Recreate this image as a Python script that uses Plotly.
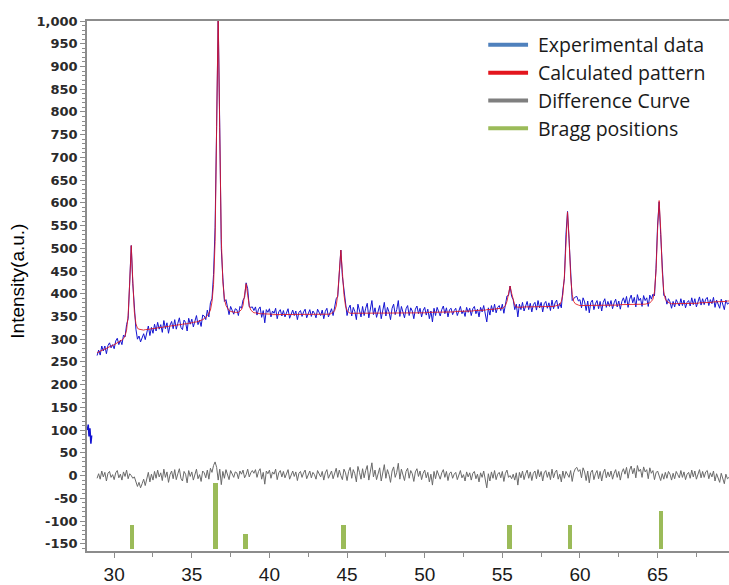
import numpy as np
import plotly.graph_objects as go

# ---- Co3O4 powder pattern, Rietveld fit -------------------------------------
# 2-theta grid of the scan (degrees), 0.1 deg step from 28.9 to 69.6
two_theta = np.round(np.arange(28.9, 69.65, 0.1), 1)

# Calculated (fitted) pattern, one row per degree
calculated = np.array([
    270,
    272, 273, 275, 277, 278, 280, 281, 283, 285, 286,
    288, 290, 291, 293, 295, 298, 301, 307, 320, 352,
    424, 506, 428, 360, 334, 324, 322, 321, 320, 320,
    321, 321, 322, 322, 323, 323, 324, 324, 325, 325,
    326, 326, 327, 327, 328, 328, 329, 329, 330, 330,
    331, 331, 332, 332, 333, 333, 334, 334, 335, 335,
    336, 337, 337, 338, 339, 340, 341, 343, 345, 348,
    352, 357, 364, 382, 420, 515, 750, 1019, 752, 519,
    426, 389, 374, 367, 363, 361, 360, 359, 359, 359,
    359, 362, 365, 374, 397, 422, 397, 374, 364, 360,
    358, 358, 357, 357, 356, 356, 356, 355, 355, 355,
    355, 355, 354, 354, 354, 354, 354, 354, 354, 354,
    354, 354, 354, 354, 354, 354, 354, 354, 354, 354,
    354, 354, 354, 354, 354, 354, 355, 355, 355, 355,
    355, 355, 355, 355, 355, 355, 355, 355, 355, 355,
    357, 359, 363, 373, 398, 447, 496, 447, 398, 373,
    363, 359, 357, 357, 357, 357, 357, 357, 357, 357,
    357, 357, 357, 357, 357, 357, 357, 357, 357, 357,
    357, 357, 357, 357, 357, 357, 357, 358, 358, 358,
    358, 358, 358, 358, 358, 358, 358, 358, 358, 358,
    358, 358, 358, 358, 358, 358, 358, 358, 358, 358,
    358, 358, 359, 359, 359, 359, 359, 359, 359, 359,
    359, 359, 360, 360, 360, 360, 360, 360, 360, 360,
    361, 361, 361, 361, 361, 361, 362, 362, 362, 362,
    362, 362, 363, 363, 363, 363, 364, 364, 364, 364,
    365, 365, 365, 366, 366, 366, 367, 367, 367, 368,
    368, 370, 374, 383, 400, 417, 401, 384, 375, 371,
    370, 370, 370, 371, 371, 371, 371, 371, 371, 371,
    371, 371, 371, 372, 372, 372, 372, 372, 372, 372,
    372, 372, 372, 372, 373, 374, 375, 376, 383, 398,
    439, 522, 580, 522, 439, 398, 383, 378, 376, 375,
    374, 374, 374, 374, 374, 374, 374, 374, 374, 374,
    374, 374, 374, 374, 374, 375, 375, 375, 375, 375,
    375, 375, 375, 375, 375, 375, 376, 376, 376, 376,
    376, 376, 376, 376, 376, 376, 376, 376, 376, 376,
    376, 377, 377, 378, 379, 380, 383, 388, 404, 450,
    541, 605, 541, 450, 404, 388, 383, 380, 379, 378,
    378, 378, 378, 378, 378, 378, 378, 378, 378, 378,
    378, 379, 379, 379, 379, 379, 379, 380, 380, 380,
    380, 380, 381, 381, 381, 381, 382, 382, 382, 382,
    383, 383, 383, 383, 383, 384, 384,
])

# Fit residual (observed - calculated), same grid
residual = np.array([
    -6,
    4, -8, 10, -3, 7, -12, 5, 9, -4, 2,
    -9, 6, 11, -5, 3, -10, 8, -2, 12, -7,
    4, 0, -6, -3, -12, -24, -15, -27, -18, -8,
    -22, -5, 7, -14, 3, -10, 9, -6, 12, -3,
    6, -11, 14, -4, 8, -15, 2, 10, -7, 13,
    -9, 4, 15, -6, -12, 9, 3, -16, 11, -2,
    8, -10, 5, 14, -7, 2, -13, 10, 6, -5,
    12, -8, 16, 7, 22, 30, 18, -10, 14, -20,
    9, -6, 13, 4, -9, 11, 2, -4, 8, 6,
    -7, 10, 3, 12, -5, 2, 14, -3, 6, 11,
    5, 13, -4, 9, 15, -8, 7, -19, 10, 4,
    12, -6, 8, 3, 14, -9, 6, 11, -3, 9,
    -5, 7, 13, -8, 4, 10, -2, 8, -11, 5,
    9, -4, 6, 12, -7, 3, 10, -5, 7, 2,
    -8, 11, 4, -3, 9, -10, 6, 13, -6, 3,
    10, -7, 5, 16, -4, 12, 0, -9, 14, 6,
    -11, 9, 18, -6, 13, 4, -14, 20, 7, -8,
    15, -5, 11, 22, -10, 8, 28, -3, 12, -9,
    6, 17, -12, 9, 24, -6, 13, 2, -15, 10,
    19, -4, 7, 27, -8, 14, 3, -11, 9, 16,
    -6, 11, 4, -13, 8, 15, -2, 10, -9, 5,
    12, -5, 7, -14, 3, -21, 9, -7, 11, 2,
    -8, 6, 13, -4, 9, -11, 5, 8, -6, 3,
    7, -9, 4, 11, -5, 2, -12, 8, -3, 6,
    -10, 5, 9, -7, 3, -14, 6, -4, 10, -8,
    -27, 4, -12, 8, -6, 11, -9, 3, 7, -5,
    9, -13, 5, 12, -4, 0, -7, 3, -10, 6,
    -21, 7, -5, 10, -9, 4, 12, -6, 8, -11,
    5, 10, -7, 13, -3, 9, -12, 6, 11, -4,
    8, -9, 14, -5, 7, 12, -8, 3, -14, 10,
    -6, 9, 1, -4, 11, -13, 6, 15, 18, 9,
    13, -5, 17, 8, -11, 10, -16, 7, 12, -9,
    4, 11, -7, 9, -12, 6, 14, -5, 8, -3,
    10, -8, 5, 13, -4, 9, -10, 7, 15, 3,
    18, -6, 12, 21, 4, 16, -5, 22, 9, 14,
    -4, 19, 8, 13, -7, 17, 5, 11, -9, 6,
    10, -3, -11, 4, -8, 7, -6, 9, 3, -10,
    5, -7, 9, 2, -5, 11, -4, 8, -9, 3,
    7, -6, 12, -3, 10, -8, 5, 13, -5, 9,
    -4, 8, 11, -7, 6, -3, 10, -12, 4, -6,
    -15, 5, -9, -18, 3, -7, -4,
])

observed = calculated + residual

# Short stray segment recorded at the very start of the scan
lead_two_theta = [28.27, 28.33, 28.38, 28.44, 28.50, 28.55]
lead_counts = [100, 112, 86, 104, 70, 88]

# Bragg reflection markers
bragg_two_theta = [31.14, 36.53, 38.44, 44.78, 55.48, 59.36, 65.21]
bragg_top = [-109, -17, -129, -109, -109, -109, -79]
bragg_base = -162

# Axis ticks
x_tick_vals = [30, 35, 40, 45, 50, 55, 60, 65]
y_tick_vals = list(range(-150, 1001, 50))
y_tick_text = [f"{v:,}" for v in y_tick_vals]

# Legend entries
legend_names = ["Experimental data", "Calculated pattern", "Difference Curve", "Bragg positions"]
legend_colors = ["#4f81bd", "#e3151d", "#7f7f7f", "#9bbb59"]

BLUE = "#1414d2"
RED = "#e3151d"
GRAY = "#6a6a6a"
GREEN = "#9bbb59"

fig = go.Figure()

fig.add_trace(go.Scatter(x=two_theta, y=residual, mode="lines",
                         line=dict(color=GRAY, width=1), showlegend=False))
fig.add_trace(go.Bar(x=bragg_two_theta, y=[t - bragg_base for t in bragg_top],
                     base=bragg_base, width=0.3, marker=dict(color=GREEN, line=dict(width=0)),
                     showlegend=False))
fig.add_trace(go.Scatter(x=lead_two_theta, y=lead_counts, mode="lines",
                         line=dict(color=BLUE, width=1.5), showlegend=False))
fig.add_trace(go.Scatter(x=two_theta, y=observed, mode="lines",
                         line=dict(color=BLUE, width=1), showlegend=False))
fig.add_trace(go.Scatter(x=two_theta, y=calculated, mode="lines",
                         line=dict(color=RED, width=1), opacity=0.85, showlegend=False))

# Hand-placed legend in the upper right of the plot area
shapes = []
annotations = []
row_y = [0.955, 0.9025, 0.85, 0.7975]
for name, color, yy in zip(legend_names, legend_colors, row_y):
    shapes.append(dict(type="line", xref="paper", yref="paper",
                       x0=0.625, x1=0.687, y0=yy, y1=yy,
                       line=dict(color=color, width=4)))
    annotations.append(dict(text=name, xref="paper", yref="paper", x=0.700, y=yy,
                            xanchor="left", yanchor="middle", showarrow=False,
                            font=dict(family="Open Sans", size=19.5, color="#1a1a1a")))

annotations.append(dict(text="Intensity(a.u.)", xref="paper", yref="paper",
                        x=-0.1075, y=0.51, textangle=-90, showarrow=False,
                        xanchor="center", yanchor="middle",
                        font=dict(family="Liberation Sans", size=19, color="#000000")))

fig.update_layout(
    width=729, height=585,
    margin=dict(l=87, r=0, t=21, b=30),
    paper_bgcolor="white", plot_bgcolor="white",
    shapes=shapes, annotations=annotations,
    showlegend=False,
    bargap=0,
    xaxis=dict(range=[28.25, 69.6], tickvals=x_tick_vals,
               showline=True, linecolor="#8c8c8c", linewidth=1.5, mirror=True,
               ticks="outside", ticklen=5, tickcolor="#8c8c8c", tickwidth=1,
               minor=dict(dtick=2.5, ticks="outside", ticklen=4, tickcolor="#8c8c8c"),
               showgrid=False, zeroline=False,
               tickfont=dict(family="Liberation Sans", size=19, color="#1a1a1a")),
    yaxis=dict(range=[-166, 1000], tickvals=y_tick_vals, ticktext=y_tick_text,
               showline=True, linecolor="#8c8c8c", linewidth=1.5,
               ticks="outside", ticklen=5, tickcolor="#8c8c8c", tickwidth=1,
               minor=dict(dtick=10, ticks="outside", ticklen=3, tickcolor="#8c8c8c"),
               showgrid=False, zeroline=False,
               tickfont=dict(family="DejaVu Sans", size=13, weight="bold", color="#2a2a2a")),
)

fig.write_html("out.html")
